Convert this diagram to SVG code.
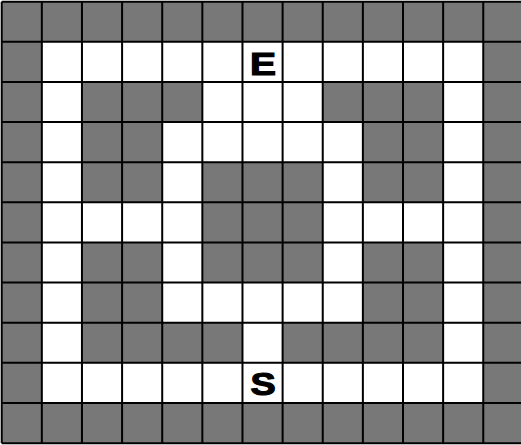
<svg xmlns="http://www.w3.org/2000/svg" width="521" height="445" viewBox="0 0 521 445">
<style>
.wall{fill:#787878}
.grid{stroke:#000;stroke-width:2;fill:none}
.lbl{font-family:"Liberation Sans",Arial,sans-serif;font-weight:bold;font-size:32px;fill:#000;stroke:#000;stroke-width:1.2;stroke-linejoin:miter}
</style>
<rect width="521" height="445" fill="#fff"/>
<g id="maze" transform="translate(1.7,1.7) scale(40.13)">
<g id="walls" class="wall">
<rect x="0" y="0" width="13" height="1"/>
<rect x="0" y="1" width="1" height="9"/>
<rect x="12" y="1" width="1" height="9"/>
<rect x="2" y="2" width="3" height="1"/>
<rect x="8" y="2" width="3" height="1"/>
<rect x="2" y="3" width="2" height="2"/>
<rect x="9" y="3" width="2" height="2"/>
<rect x="5" y="4" width="3" height="3"/>
<rect x="2" y="6" width="2" height="2"/>
<rect x="9" y="6" width="2" height="2"/>
<rect x="2" y="8" width="4" height="1"/>
<rect x="7" y="8" width="4" height="1"/>
<rect x="0" y="10" width="13" height="1"/>
</g>
<path id="gridlines" class="grid" vector-effect="non-scaling-stroke" d="M0 0V11M1 0V11M2 0V11M3 0V11M4 0V11M5 0V11M6 0V11M7 0V11M8 0V11M9 0V11M10 0V11M11 0V11M12 0V11M0 0H13M0 1H13M0 2H13M0 3H13M0 4H13M0 5H13M0 6H13M0 7H13M0 8H13M0 9H13M0 10H13M0 11H13"/>
</g>
<g id="labels">
<text class="lbl" text-anchor="middle" transform="translate(263,74.5) scale(1.22,1)">E</text>
<text class="lbl" text-anchor="middle" transform="translate(263,395) scale(1.18,1)">S</text>
</g>
</svg>
